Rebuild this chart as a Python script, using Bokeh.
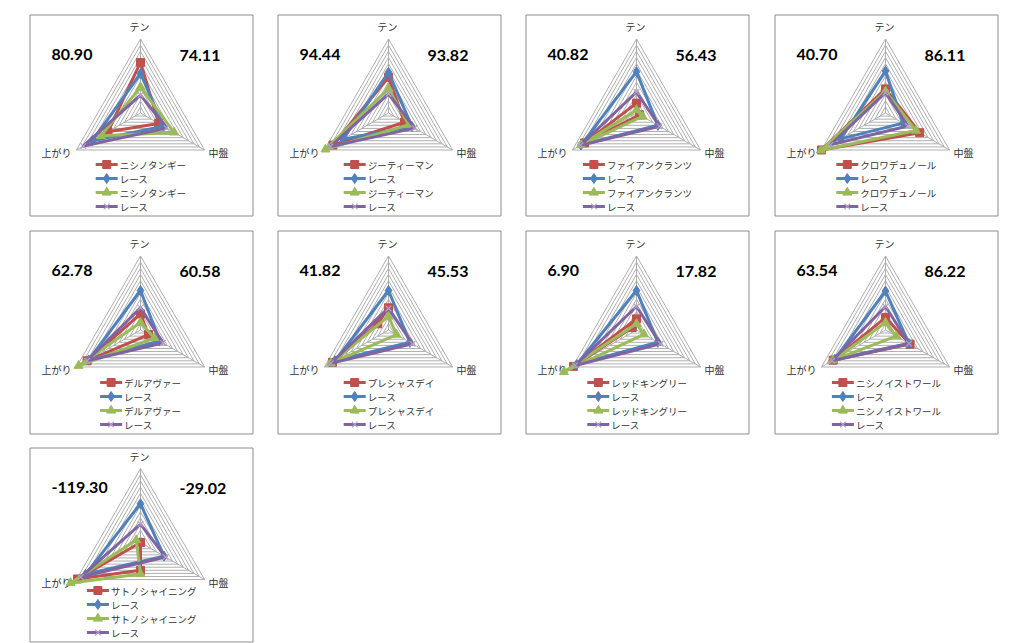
import math
from bokeh.plotting import figure
from bokeh.models import Range1d
from bokeh.core.properties import value
from bokeh.embed import file_html
from bokeh.resources import INLINE

# ---------------- data ----------------
axis_labels = ["テン", "中盤", "上がり"]
horse_names = ["ニシノタンギー", "ジーティーマン", "ファイアンクランツ", "クロワデュノール",
               "デルアヴァー", "プレシャスデイ", "レッドキングリー", "ニシノイストワール",
               "サトノシャイニング"]
race_label = "レース"
left_scores = ["80.90", "94.44", "40.82", "40.70", "62.78", "41.82", "6.90", "63.54", "-119.30"]
right_scores = ["74.11", "93.82", "56.43", "86.11", "60.58", "45.53", "17.82", "86.22", "-29.02"]

# values per panel: [テン, 中盤, 上がり]
horse_a = [[82, 34, 61], [58, 30, 104], [16, 6, 97], [39, 64, 120], [26, 15, 100],
           [36, -20, 105], [18, -8, 118], [20, 46, 98], [-45, 0, 118]]
race_a = [[64, 43, 90], [66, 44, 85], [67, 40, 104], [68, 33, 84], [64, 36, 97],
          [64, 40, 100], [64, 40, 112], [63, 44, 95], [63, 44, 103]]
horse_b = [[42, 63, 74], [39, 38, 118], [5, 11, 104], [35, 57, 121], [12, 26, 116],
           [22, 15, 108], [10, 14, 136], [12, 20, 98], [-51, -8, 131]]
race_b = [[29, 49, 107], [31, 49, 109], [34, 43, 105], [33, 42, 103], [36, 42, 100],
          [35, 45, 108], [38, 45, 115], [38, 44, 100], [30, 47, 112]]

axis_max = 120
n_rings = 12

# ---------------- layout ----------------
W, H = 1016, 643
p = figure(width=W, height=H, x_range=Range1d(0, W), y_range=Range1d(H, 0),
           output_backend="svg", toolbar_location=None, min_border=0)
p.axis.visible = False
p.grid.visible = False
p.outline_line_color = None
p.background_fill_color = "white"

box_lefts = [29, 277, 525, 774]
box_tops = [14, 230, 447]
box_heights = [201, 203, 194]
BOX_W = 223
R = 74
angles = [90, -30, 210]

JP = value("Noto Sans CJK JP")
NUM = value("Lato")

series_style = [
    ("#C0504D", "square", 8),
    ("#4F81BD", "diamond", 10),
    ("#9BBB59", "triangle", 9),
    ("#8064A2", "x", 8),
]

def pt(cx, cy, r, a):
    return cx + r * math.cos(math.radians(a)), cy - r * math.sin(math.radians(a))

for i, name in enumerate(horse_names):
    row, col = divmod(i, 4)
    bx = box_lefts[col]
    by = box_tops[row]
    bh = box_heights[row]
    # frame
    p.quad(left=[bx + 0.5], right=[bx + BOX_W + 0.5], top=[by + 0.5], bottom=[by + bh + 0.5],
           fill_color="white", line_color="#8C8C8C", line_width=1)
    cx = bx + 111
    cy = by + 0.49 * bh
    # rings and spokes
    xs, ys = [], []
    for k in range(1, n_rings + 1):
        rr = R * k / n_rings
        pts = [pt(cx, cy, rr, a) for a in angles] + [pt(cx, cy, rr, angles[0])]
        xs.append([q[0] for q in pts])
        ys.append([q[1] for q in pts])
    for a in angles:
        vx, vy = pt(cx, cy, R, a)
        xs.append([cx, vx])
        ys.append([cy, vy])
    p.multi_line(xs, ys, line_color="#AFAFAF", line_width=1)
    # axis labels
    tx, ty = pt(cx, cy, R, 90)
    p.text([tx - 1], [ty - 12], text=[axis_labels[0]], text_font=JP, text_font_size="10px",
           text_align="center", text_baseline="middle", text_color="#333333")
    rx, ry = pt(cx, cy, R, -30)
    p.text([rx + 4], [ry + 3], text=[axis_labels[1]], text_font=JP, text_font_size="10px",
           text_align="left", text_baseline="middle", text_color="#333333")
    lx, ly = pt(cx, cy, R, 210)
    p.text([lx - 5], [ly + 3], text=[axis_labels[2]], text_font=JP, text_font_size="10px",
           text_align="right", text_baseline="middle", text_color="#333333")
    # big numbers
    p.text([bx + 22], [by + 40], text=[left_scores[i]], text_font=NUM, text_font_size="16px",
           text_font_style="bold", text_align="left", text_baseline="middle", text_color="black")
    p.text([bx + 150], [by + 41], text=[right_scores[i]], text_font=NUM, text_font_size="16px",
           text_font_style="bold", text_align="left", text_baseline="middle", text_color="black")
    # series
    data_sets = [horse_a[i], race_a[i], horse_b[i], race_b[i]]
    labels = [name, race_label, name, race_label]
    for vals, (color, marker, size) in zip(data_sets, series_style):
        pts = [pt(cx, cy, R * v / axis_max, a) for v, a in zip(vals, angles)]
        px = [q[0] for q in pts]
        py = [q[1] for q in pts]
        p.line(px + [px[0]], py + [py[0]], line_color=color, line_width=3, line_join="round")
        if marker == "x":
            p.scatter(px, py, marker=marker, size=size, line_color="#B3A2C7", line_width=1.2)
        else:
            p.scatter(px, py, marker=marker, size=size, fill_color=color, line_color=color)
    # legend
    w = 8.8 * len(name)
    L = bx + 109 - (24 + w) / 2
    offs = [51, 37, 23, 9]
    for (color, marker, size), lab, o in zip(series_style, labels, offs):
        yy = by + bh - o
        p.line([L, L + 22], [yy, yy], line_color=color, line_width=3)
        if marker == "x":
            p.scatter([L + 11], [yy], marker=marker, size=size, line_color="#B3A2C7", line_width=1.2)
        else:
            p.scatter([L + 11], [yy], marker=marker, size=size, fill_color=color, line_color=color)
        p.text([L + 24], [yy], text=[lab], text_font=JP, text_font_size="9.5px",
               text_align="left", text_baseline="middle", text_color="#333333")

open("out.html", "w").write(file_html(p, INLINE))
